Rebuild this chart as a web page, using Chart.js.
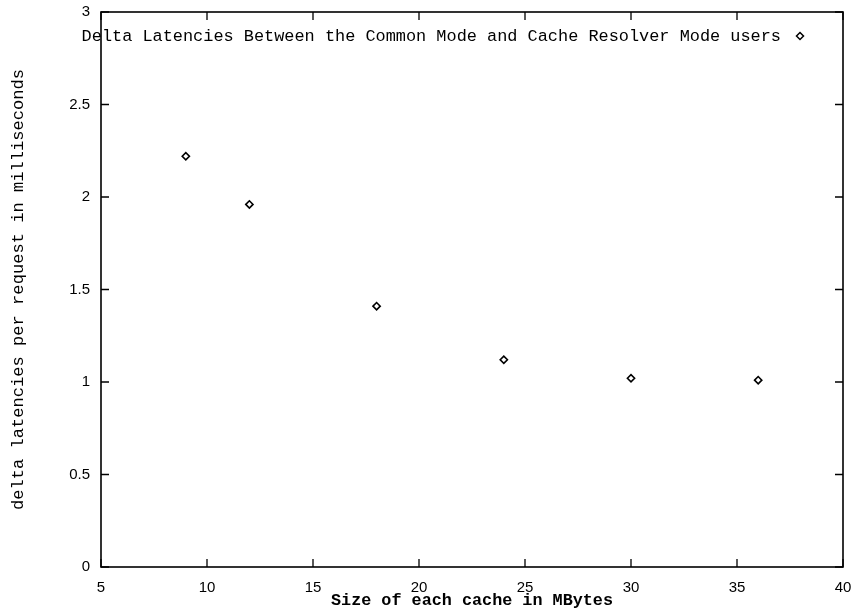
<!DOCTYPE html>
<html>
<head>
<meta charset="utf-8">
<script src="https://cdn.jsdelivr.net/npm/chart.js@4/dist/chart.umd.min.js"></script>
<style>
html,body{margin:0;padding:0;background:#fff;}
#wrap{width:854px;height:614px;}
</style>
</head>
<body>
<div id="wrap"><canvas id="c" width="854" height="614"></canvas></div>
<script>
const cacheSizes = [9, 12, 18, 24, 30, 36];
const deltaLatencies = [2.22, 1.96, 1.41, 1.12, 1.02, 1.01];
const seriesLabel = 'Delta Latencies Between the Common Mode and Cache Resolver Mode users';
const xTitle = 'Size of each cache in MBytes';
const yTitle = 'delta latencies per request in milliseconds';
const xTicks = [5, 10, 15, 20, 25, 30, 35, 40];
const yTicks = [0, 0.5, 1, 1.5, 2, 2.5, 3];

const monoFont = '"Liberation Mono", "Courier New", monospace';
const sansFont = '"Liberation Sans", Arial, sans-serif';

const framePlugin = {
  id: 'frame',
  afterDatasetsDraw(chart) {
    const {ctx, chartArea: a, scales: {x, y}} = chart;
    ctx.save();
    ctx.strokeStyle = '#000';
    ctx.lineWidth = 1.6;
    ctx.strokeRect(a.left, a.top, a.right - a.left, a.bottom - a.top);
    ctx.lineWidth = 1.3;
    const tl = 8;
    ctx.beginPath();
    xTicks.forEach(v => {
      const px = x.getPixelForValue(v);
      ctx.moveTo(px, a.bottom); ctx.lineTo(px, a.bottom - tl);
      ctx.moveTo(px, a.top); ctx.lineTo(px, a.top + tl);
    });
    yTicks.forEach(v => {
      const py = y.getPixelForValue(v);
      ctx.moveTo(a.left, py); ctx.lineTo(a.left + tl, py);
      ctx.moveTo(a.right, py); ctx.lineTo(a.right - tl, py);
    });
    ctx.stroke();
    // key (legend) inside plot area, gnuplot style
    const ds = chart.data.datasets[0];
    ctx.font = '16.9px ' + monoFont;
    ctx.fillStyle = '#000';
    ctx.textAlign = 'right';
    ctx.textBaseline = 'middle';
    const ky = a.top + 25;
    ctx.fillText(ds.label, a.right - 62, ky);
    const mx = a.right - 43;
    const my = ky - 1;
    ctx.beginPath();
    ctx.moveTo(mx, my - 3.5); ctx.lineTo(mx + 3.5, my); ctx.lineTo(mx, my + 3.5); ctx.lineTo(mx - 3.5, my); ctx.closePath();
    ctx.fillStyle = '#fff'; ctx.fill();
    ctx.lineWidth = 1.5; ctx.strokeStyle = '#000'; ctx.stroke();
    ctx.restore();
  }
};

new Chart(document.getElementById('c'), {
  type: 'scatter',
  data: {
    datasets: [{
      label: seriesLabel,
      data: cacheSizes.map((v, i) => ({x: v, y: deltaLatencies[i]})),
      pointStyle: 'rectRot',
      pointRadius: 3.6,
      pointBorderWidth: 1.6,
      pointBorderColor: '#000',
      pointBackgroundColor: '#fff',
      showLine: false
    }]
  },
  options: {
    responsive: false,
    animation: false,
    layout: {padding: {left: 0, right: 11, top: 12, bottom: 0}},
    plugins: {legend: {display: false}, tooltip: {enabled: false}},
    scales: {
      x: {
        type: 'linear', min: 5, max: 40,
        afterBuildTicks: s => { s.ticks = xTicks.map(v => ({value: v})); },
        afterFit: s => { s.height = 47; s.paddingLeft = 0; s.paddingRight = 0; },
        grid: {display: false, drawTicks: false},
        border: {display: false},
        ticks: {color: '#000', padding: 12, font: {family: sansFont, size: 15}, maxRotation: 0, callback: v => String(v)},
        title: {display: true, text: xTitle, color: '#000', font: {family: monoFont, size: 16.8, weight: 'bold'}, padding: {top: 0, bottom: 3}}
      },
      y: {
        type: 'linear', min: 0, max: 3,
        afterBuildTicks: s => { s.ticks = yTicks.map(v => ({value: v})); },
        afterFit: s => { s.width = 101; s.paddingTop = 0; s.paddingBottom = 0; },
        grid: {display: false, drawTicks: false},
        border: {display: false},
        ticks: {color: '#000', padding: 11, font: {family: sansFont, size: 15}, callback: v => String(v)},
        title: {display: true, text: yTitle, color: '#000', font: {family: monoFont, size: 17.1, weight: 'normal'}, padding: {top: 8, bottom: 0}}
      }
    }
  },
  plugins: [framePlugin]
});
</script>
</body>
</html>
